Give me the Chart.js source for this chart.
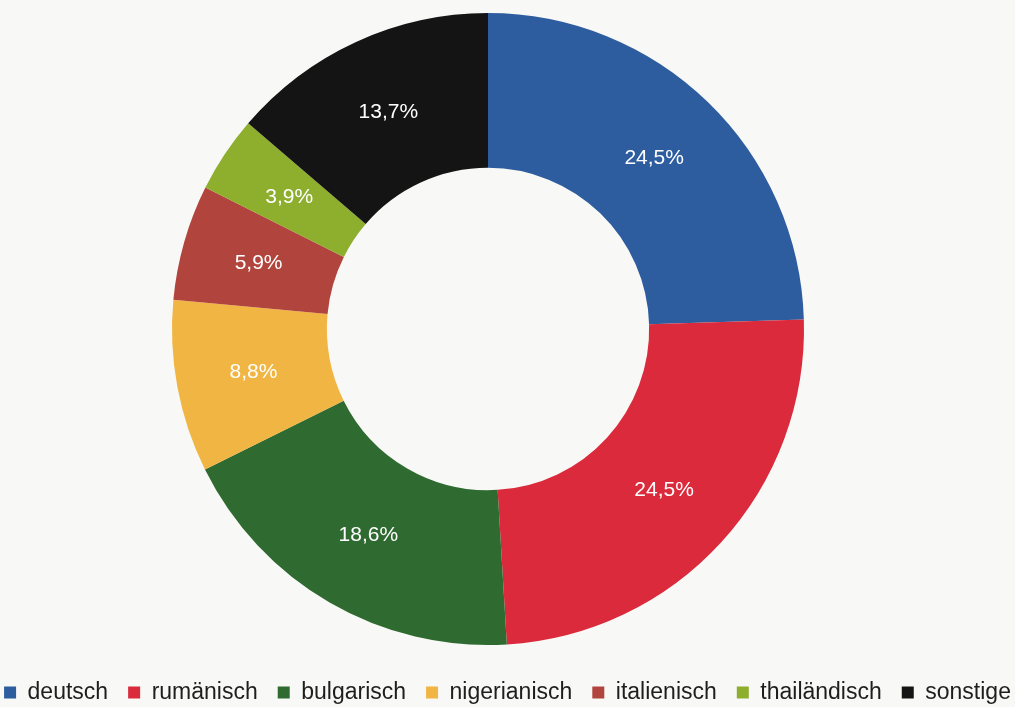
<!DOCTYPE html>
<html>
<head>
<meta charset="utf-8">
<script src="https://cdn.jsdelivr.net/npm/chart.js@4"></script>
<style>
  html, body { margin: 0; padding: 0; background: #f8f8f6; }
  #wrap { width: 1015px; height: 707px; }
</style>
</head>
<body>
<div id="wrap"><canvas id="myChart"></canvas></div>
<script>
const labels = ["deutsch", "rumänisch", "bulgarisch", "nigerianisch", "italienisch", "thailändisch", "sonstige"];
const shares = [24.5, 24.5, 18.6, 8.8, 5.9, 3.9, 13.7];
const colors = ["#2d5d9f", "#da2a3c", "#2f6a30", "#f1b543", "#b1453d", "#8eae2d", "#141414"];

// writes the percent values in the middle of each slice
const sliceLabels = {
  id: "sliceLabels",
  afterDatasetsDraw(chart) {
    const ctx = chart.ctx;
    const meta = chart.getDatasetMeta(0);
    ctx.save();
    ctx.fillStyle = "#ffffff";
    ctx.font = "21px 'Liberation Sans', Arial, sans-serif";
    ctx.textAlign = "center";
    ctx.textBaseline = "middle";
    meta.data.forEach((arc, i) => {
      const p = arc.tooltipPosition();
      ctx.fillText(shares[i].toFixed(1).replace(".", ",") + "%", p.x, p.y);
    });
    ctx.restore();
  },
};

// ring box: a bit left of the page centre, above the legend
const ringBox = {
  id: "ringBox",
  afterLayout(chart) {
    const a = chart.chartArea;
    a.left = 172;
    a.right = 804;
    a.top = 13;
    a.bottom = 645;
    a.width = a.right - a.left;
    a.height = a.bottom - a.top;
  },
};

const ctx = document.getElementById("myChart").getContext("2d");
new Chart(ctx, {
  type: "doughnut",
  data: {
    labels: labels,
    datasets: [
      {
        data: shares,
        backgroundColor: colors,
        borderWidth: 0,
        hoverOffset: 0,
      },
    ],
  },
  options: {
    responsive: true,
    maintainAspectRatio: false,
    animation: false,
    cutout: "51%",
    layout: { padding: { top: 13, bottom: -7, left: -16, right: -16 } },
    plugins: {
      tooltip: { enabled: false },
      legend: {
        position: "bottom",
        labels: {
          color: "#1e1e1e",
          boxWidth: 12,
          boxHeight: 12,
          padding: 20,
          font: { family: "'Liberation Sans', Arial, sans-serif", size: 23 },
        },
      },
    },
  },
  plugins: [sliceLabels, ringBox],
});
</script>
</body>
</html>
